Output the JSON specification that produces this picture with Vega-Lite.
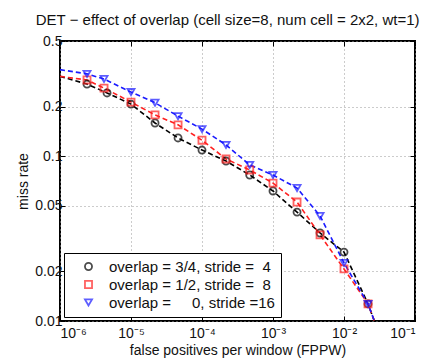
{
  "$schema": "https://vega.github.io/schema/vega-lite/v6.json",
  "autosize": {"type": "none"},
  "width": 355,
  "height": 280,
  "padding": {"left": 60, "top": 41, "right": 18, "bottom": 43},
  "background": "white",
  "title": {
    "text": "DET − effect of overlap (cell size=8, num cell = 2x2, wt=1)",
    "anchor": "start",
    "dx": 19,
    "offset": 6,
    "fontSize": 15,
    "fontWeight": "normal",
    "font": "Liberation Sans",
    "color": "#111"
  },
  "config": {
    "font": "Liberation Sans",
    "view": {"stroke": "black", "strokeWidth": 2},
    "axis": {
      "domain": false,
      "gridColor": "#999",
      "gridDash": [1, 3],
      "gridWidth": 1,
      "tickColor": "black",
      "tickSize": -5,
      "labelColor": "#111",
      "titleColor": "#111",
      "titleFontWeight": "normal",
      "titleFontSize": 14,
      "labelFontSize": 14
    },
    "legend": {
      "title": null,
      "orient": "bottom-left",
      "offset": 4,
      "strokeColor": "black",
      "fillColor": "white",
      "padding": 6,
      "labelFontSize": 15,
      "labelColor": "#111",
      "labelLimit": 300,
      "labelOffset": 13,
      "symbolOffset": 11,
      "rowPadding": 2,
      "symbolSize": 50,
      "symbolStrokeWidth": 1.8
    }
  },
  "resolve": {"axis": {"x": "independent", "y": "independent"}},
  "data": {
    "values": [
      {"series": "overlap = 3/4, stride =\u20074", "fppw": 1e-6, "miss": 0.305},
      {"series": "overlap = 3/4, stride =\u20074", "fppw": 2.4e-6, "miss": 0.274},
      {"series": "overlap = 3/4, stride =\u20074", "fppw": 4.6e-6, "miss": 0.242},
      {"series": "overlap = 3/4, stride =\u20074", "fppw": 1e-5, "miss": 0.207},
      {"series": "overlap = 3/4, stride =\u20074", "fppw": 2.18e-5, "miss": 0.159},
      {"series": "overlap = 3/4, stride =\u20074", "fppw": 4.6e-5, "miss": 0.129},
      {"series": "overlap = 3/4, stride =\u20074", "fppw": 1e-4, "miss": 0.109},
      {"series": "overlap = 3/4, stride =\u20074", "fppw": 2.18e-4, "miss": 0.0935},
      {"series": "overlap = 3/4, stride =\u20074", "fppw": 4.7e-4, "miss": 0.0769},
      {"series": "overlap = 3/4, stride =\u20074", "fppw": 1e-3, "miss": 0.0615},
      {"series": "overlap = 3/4, stride =\u20074", "fppw": 2.18e-3, "miss": 0.0458},
      {"series": "overlap = 3/4, stride =\u20074", "fppw": 4.6e-3, "miss": 0.0342},
      {"series": "overlap = 3/4, stride =\u20074", "fppw": 1e-2, "miss": 0.0262},
      {"series": "overlap = 3/4, stride =\u20074", "fppw": 2.18e-2, "miss": 0.0127},
      {"series": "overlap = 3/4, stride =\u20074", "fppw": 2.8e-2, "miss": 0.0095},
      {"series": "overlap = 1/2, stride =\u20078", "fppw": 1e-6, "miss": 0.305},
      {"series": "overlap = 1/2, stride =\u20078", "fppw": 2.4e-6, "miss": 0.29},
      {"series": "overlap = 1/2, stride =\u20078", "fppw": 4.17e-6, "miss": 0.259},
      {"series": "overlap = 1/2, stride =\u20078", "fppw": 1e-5, "miss": 0.213},
      {"series": "overlap = 1/2, stride =\u20078", "fppw": 2.18e-5, "miss": 0.178},
      {"series": "overlap = 1/2, stride =\u20078", "fppw": 4.6e-5, "miss": 0.155},
      {"series": "overlap = 1/2, stride =\u20078", "fppw": 1e-4, "miss": 0.125},
      {"series": "overlap = 1/2, stride =\u20078", "fppw": 2.18e-4, "miss": 0.0962},
      {"series": "overlap = 1/2, stride =\u20078", "fppw": 4.7e-4, "miss": 0.0825},
      {"series": "overlap = 1/2, stride =\u20078", "fppw": 1e-3, "miss": 0.0687},
      {"series": "overlap = 1/2, stride =\u20078", "fppw": 2.18e-3, "miss": 0.0527},
      {"series": "overlap = 1/2, stride =\u20078", "fppw": 4.6e-3, "miss": 0.0333},
      {"series": "overlap = 1/2, stride =\u20078", "fppw": 1e-2, "miss": 0.0207},
      {"series": "overlap = 1/2, stride =\u20078", "fppw": 2.18e-2, "miss": 0.0127},
      {"series": "overlap = 1/2, stride =\u20078", "fppw": 2.8e-2, "miss": 0.0095},
      {"series": "overlap = \u2007\u20070, stride =16", "fppw": 1e-6, "miss": 0.335},
      {"series": "overlap = \u2007\u20070, stride =16", "fppw": 2.4e-6, "miss": 0.316},
      {"series": "overlap = \u2007\u20070, stride =16", "fppw": 4.17e-6, "miss": 0.294},
      {"series": "overlap = \u2007\u20070, stride =16", "fppw": 1e-5, "miss": 0.245},
      {"series": "overlap = \u2007\u20070, stride =16", "fppw": 2.18e-5, "miss": 0.211},
      {"series": "overlap = \u2007\u20070, stride =16", "fppw": 4.6e-5, "miss": 0.175},
      {"series": "overlap = \u2007\u20070, stride =16", "fppw": 1e-4, "miss": 0.146},
      {"series": "overlap = \u2007\u20070, stride =16", "fppw": 2.18e-4, "miss": 0.117},
      {"series": "overlap = \u2007\u20070, stride =16", "fppw": 4.7e-4, "miss": 0.0885},
      {"series": "overlap = \u2007\u20070, stride =16", "fppw": 1e-3, "miss": 0.0769},
      {"series": "overlap = \u2007\u20070, stride =16", "fppw": 2.18e-3, "miss": 0.0641},
      {"series": "overlap = \u2007\u20070, stride =16", "fppw": 4.6e-3, "miss": 0.0434},
      {"series": "overlap = \u2007\u20070, stride =16", "fppw": 1e-2, "miss": 0.0225},
      {"series": "overlap = \u2007\u20070, stride =16", "fppw": 2.18e-2, "miss": 0.0127},
      {"series": "overlap = \u2007\u20070, stride =16", "fppw": 2.8e-2, "miss": 0.0095}
    ]
  },
  "encoding": {
    "color": {
      "field": "series", "type": "nominal",
      "scale": {
        "domain": ["overlap = 3/4, stride =\u20074", "overlap = 1/2, stride =\u20078", "overlap = \u2007\u20070, stride =16"],
        "range": ["black", "#ff2020", "#1a1aff"]
      }
    }
  },
  "layer": [
    {
      "mark": {"type": "line", "clip": true, "strokeDash": [5, 3], "strokeWidth": 1.6},
      "encoding": {
        "x": {
          "field": "fppw", "type": "quantitative",
          "scale": {"type": "log", "domain": [1e-6, 0.1], "nice": false},
          "axis": {
            "title": "false positives per window (FPPW)",
            "values": [1e-6, 1e-5, 1e-4, 1e-3, 1e-2, 1e-1],
            "labelExpr": "datum.value < 5e-6 ? '10⁻⁶' : datum.value < 5e-5 ? '10⁻⁵' : datum.value < 5e-4 ? '10⁻⁴' : datum.value < 5e-3 ? '10⁻³' : datum.value < 5e-2 ? '10⁻²' : '10⁻¹'",
            "labelFontSize": 14,
            "labelPadding": 10,
            "titlePadding": 3
          }
        },
        "y": {
          "field": "miss", "type": "quantitative",
          "scale": {"type": "log", "domain": [0.01, 0.5], "nice": false},
          "axis": {
            "title": "miss rate",
            "values": [0.01, 0.02, 0.05, 0.1, 0.2, 0.5],
            "format": "~g",
            "labelPadding": 3,
            "titlePadding": 4
          }
        }
      }
    },
    {
      "transform": [{"filter": "datum.fppw > 1.5e-6 && datum.miss >= 0.01"}],
      "mark": {"type": "point", "clip": true, "filled": false, "strokeWidth": 1.8, "size": 50},
      "encoding": {
        "x": {
          "field": "fppw", "type": "quantitative",
          "axis": {"orient": "top", "labels": false, "title": null, "grid": false, "values": [1e-6, 1e-5, 1e-4, 1e-3, 1e-2, 1e-1]}
        },
        "y": {
          "field": "miss", "type": "quantitative",
          "axis": {"orient": "right", "labels": false, "title": null, "grid": false, "values": [0.01, 0.02, 0.05, 0.1, 0.2, 0.5]}
        },
        "shape": {
          "field": "series", "type": "nominal",
          "scale": {
            "domain": ["overlap = 3/4, stride =\u20074", "overlap = 1/2, stride =\u20078", "overlap = \u2007\u20070, stride =16"],
            "range": ["circle", "square", "triangle-down"]
          }
        }
      }
    }
  ]
}
